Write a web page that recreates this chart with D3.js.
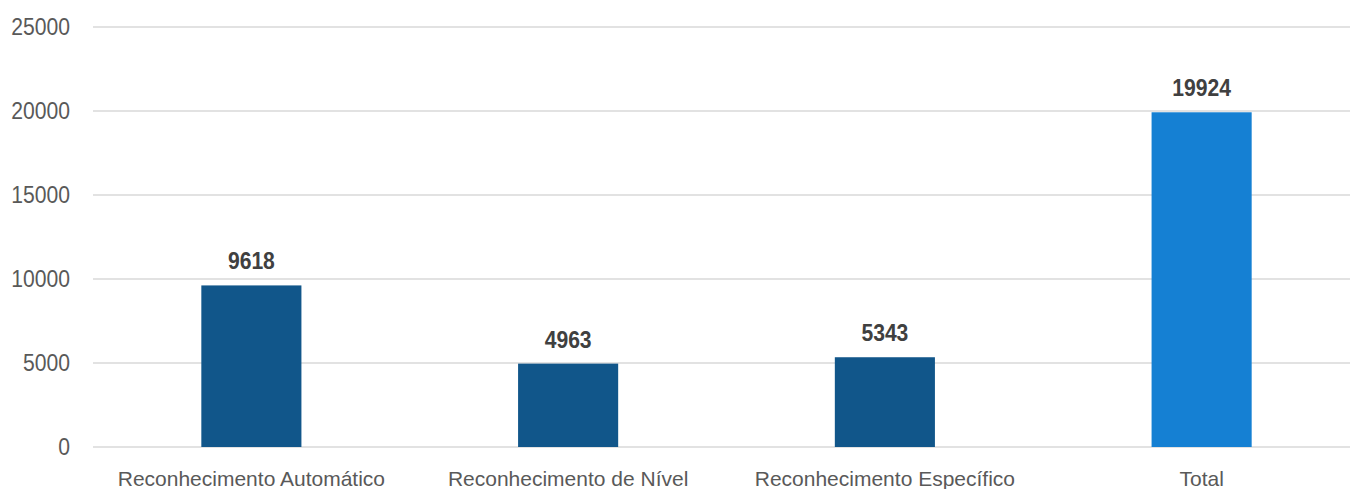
<!DOCTYPE html>
<html>
<head>
<meta charset="utf-8">
<script src="https://cdn.jsdelivr.net/npm/d3@7"></script>
<style>
html,body{margin:0;padding:0;background:#fff;}
svg{display:block;}
</style>
</head>
<body>
<svg id="chart" width="1350" height="489"></svg>
<script>
const categories = ["Reconhecimento Automático", "Reconhecimento de Nível", "Reconhecimento Específico", "Total"];
const values = [9618, 4963, 5343, 19924];
const barColors = ["#11568A", "#11568A", "#11568A", "#1580D3"];
const yTicks = [0, 5000, 10000, 15000, 20000, 25000];

const font = "'Liberation Sans Narrow', 'Arial Narrow', 'Liberation Sans', Arial, sans-serif";
const narrow = "scale(0.88,1)";
const svg = d3.select("#chart");

const x = d3.scaleBand().domain(categories).range([93, 1360]).paddingInner(0.684).paddingOuter(0.342);
const y = d3.scaleLinear().domain([0, 25000]).range([447, 27]);

// gridlines
svg.append("g").selectAll("line").data(yTicks).join("line")
  .attr("x1", 93).attr("x2", 1350)
  .attr("y1", d => y(d)).attr("y2", d => y(d))
  .attr("stroke", "#d9d9d9").attr("stroke-width", 1.6);

// y axis
const yAxis = svg.append("g").attr("transform", "translate(70,0)")
  .call(d3.axisLeft(y).tickValues(yTicks).tickSize(0).tickPadding(0).tickFormat(d3.format("d")));
yAxis.select(".domain").remove();
yAxis.selectAll("text").attr("x", 0).attr("transform", narrow)
  .attr("font-family", font).attr("font-size", 24).attr("fill", "#595959");

// bars
svg.append("g").selectAll("rect").data(values).join("rect")
  .attr("x", (d, i) => x(categories[i]))
  .attr("width", x.bandwidth())
  .attr("y", d => y(d))
  .attr("height", d => y(0) - y(d))
  .attr("fill", (d, i) => barColors[i]);

// value labels
svg.append("g").selectAll("g").data(values).join("g")
  .attr("transform", (d, i) => `translate(${x(categories[i]) + x.bandwidth() / 2},${y(d) - 16})`)
  .append("text")
  .attr("transform", narrow)
  .attr("text-anchor", "middle")
  .attr("font-family", font).attr("font-size", 24).attr("font-weight", "bold")
  .attr("fill", "#404040")
  .text(d => d);

// x axis
const xAxis = svg.append("g").attr("transform", "translate(0,447)")
  .call(d3.axisBottom(x).tickSize(0).tickPadding(0));
xAxis.select(".domain").remove();
xAxis.selectAll("text").attr("dy", null).attr("y", 39)
  .attr("font-family", font).attr("font-size", 21).attr("fill", "#595959");
</script>
</body>
</html>
